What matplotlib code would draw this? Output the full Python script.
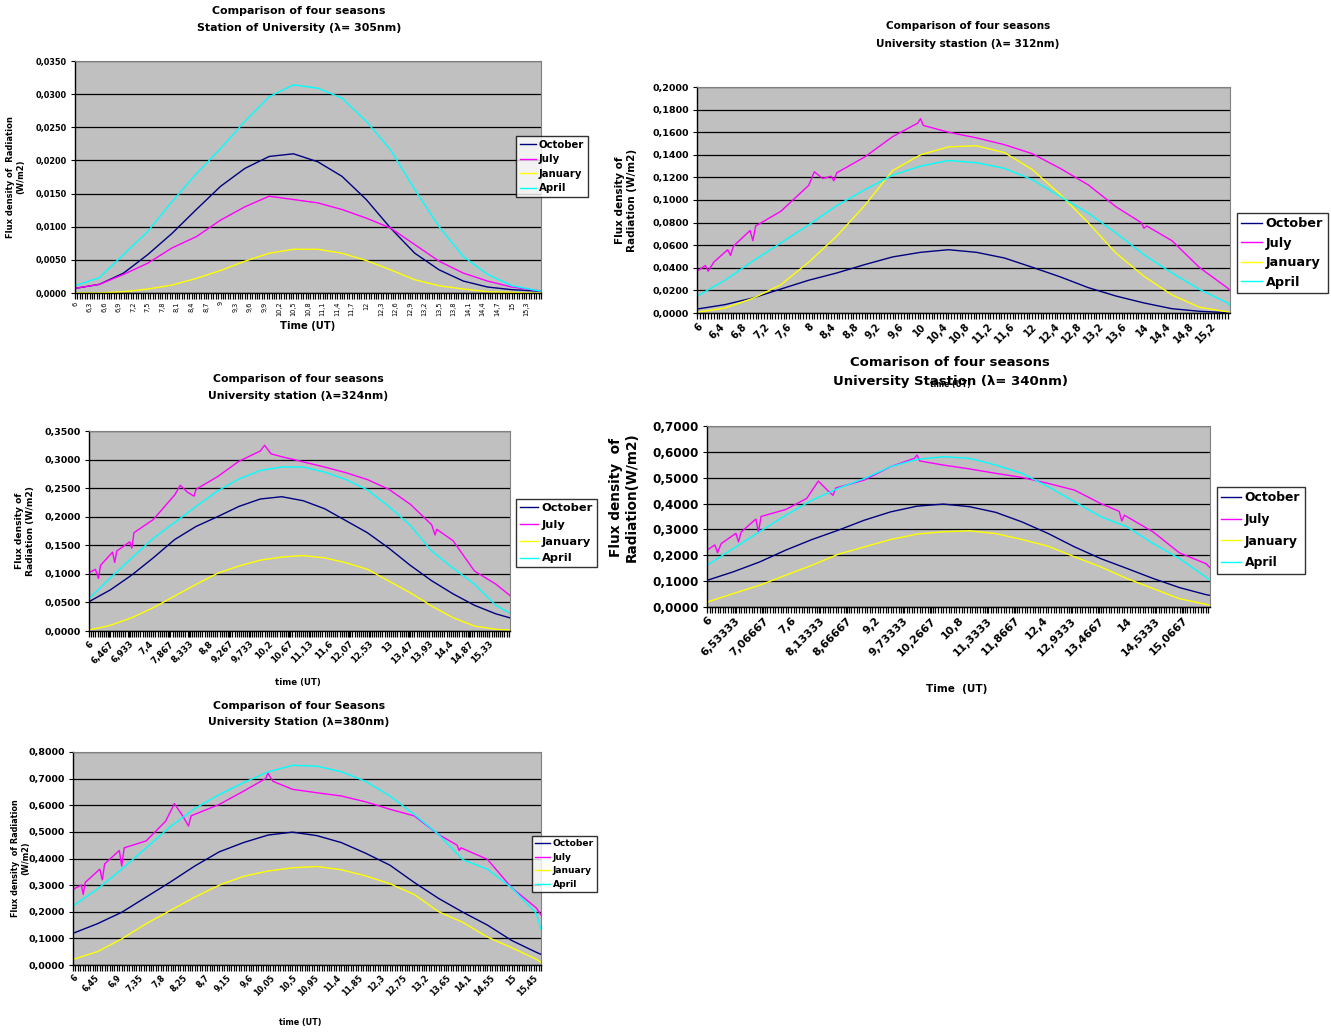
import matplotlib
matplotlib.use("Agg")
import matplotlib.pyplot as plt
from matplotlib.ticker import FixedLocator, MultipleLocator, FuncFormatter

plt.rcParams['font.family'] = ['DejaVu Sans']
plt.rcParams['font.weight'] = 'bold'

W, H = 1331, 1033

names = ["October", "July", "January", "April"]
colors = ["#000080", "#FF00FF", "#FFFF00", "#00FFFF"]

# time grid used by October, January, April (last value = end of day series)
grid_t = [6.0, 6.5, 7.0, 7.5, 8.0, 8.5, 9.0, 9.5, 10.0, 10.5, 11.0,
          11.5, 12.0, 12.5, 13.0, 13.5, 14.0, 14.5, 15.0, 15.5]

# ---- 305 nm
end1 = 15.6
oct1 = [0.0007, 0.0013, 0.0030, 0.0058, 0.0090, 0.0126, 0.0161, 0.0188, 0.0206, 0.0210, 0.0198,
        0.0176, 0.0141, 0.0098, 0.0060, 0.0035, 0.0018, 0.0009, 0.0005, 0.0003, 0.0003]
jul1_t = grid_t + [end1]
jul1 = [0.0007, 0.0013, 0.0028, 0.0045, 0.0068, 0.0085, 0.0110, 0.0130, 0.0146, 0.0141, 0.0136,
        0.0126, 0.0113, 0.0098, 0.0073, 0.0048, 0.0030, 0.0018, 0.0009, 0.0004, 0.0003]
jan1 = [0.0000, 0.0000, 0.0002, 0.0006, 0.0012, 0.0022, 0.0034, 0.0048, 0.0060, 0.0066, 0.0066,
        0.0060, 0.0049, 0.0035, 0.0020, 0.0011, 0.0006, 0.0002, 0.0001, 0.0000, 0.0000]
apr1 = [0.0011, 0.0023, 0.0058, 0.0093, 0.0138, 0.0180, 0.0218, 0.0259, 0.0296, 0.0314, 0.0309,
        0.0294, 0.0259, 0.0216, 0.0156, 0.0100, 0.0055, 0.0028, 0.0011, 0.0004, 0.0003]
xlab1 = ["6", "6,3", "6,6", "6,9", "7,2", "7,5", "7,8", "8,1", "8,4", "8,7", "9", "9,3", "9,6",
         "9,9", "10,2", "10,5", "10,8", "11,1", "11,4", "11,7", "12", "12,3", "12,6", "12,9",
         "13,2", "13,5", "13,8", "14,1", "14,4", "14,7", "15", "15,3"]

# ---- 312 nm
end2 = 15.54
oct2 = [0.0035, 0.0074, 0.0133, 0.0212, 0.0290, 0.0354, 0.0428, 0.0496, 0.0537, 0.0560, 0.0537,
        0.0487, 0.0405, 0.0320, 0.0225, 0.0150, 0.0089, 0.0038, 0.0015, 0.0003, 0.0002]
jul2_t = [6.0, 6.15, 6.2, 6.3, 6.55, 6.6, 6.65, 6.95, 7.0, 7.05, 7.5, 8.0, 8.1, 8.25, 8.4, 8.45,
          8.5, 9.0, 9.5, 9.95, 10.0, 10.05, 10.5, 11.0, 11.5, 12.0, 12.5, 13.0, 13.5, 13.95,
          14.0, 14.05, 14.5, 15.0, 15.5, 15.54]
jul2 = [0.037, 0.042, 0.037, 0.045, 0.056, 0.051, 0.059, 0.073, 0.064, 0.077, 0.090, 0.113,
        0.125, 0.119, 0.121, 0.117, 0.124, 0.138, 0.156, 0.168, 0.172, 0.166, 0.160, 0.155,
        0.149, 0.141, 0.128, 0.1135, 0.094, 0.080, 0.075, 0.077, 0.064, 0.040, 0.022, 0.020]
jan2 = [0.0006, 0.0044, 0.0130, 0.0250, 0.0450, 0.0680, 0.0950, 0.1260, 0.1400, 0.1470, 0.1480,
        0.1420, 0.1270, 0.1050, 0.0800, 0.0530, 0.0325, 0.0160, 0.0050, 0.0010, 0.0008]
apr2 = [0.0148, 0.0290, 0.0460, 0.0620, 0.0780, 0.0950, 0.1090, 0.1220, 0.1300, 0.1350, 0.1330,
        0.1280, 0.1180, 0.1030, 0.0885, 0.0708, 0.0516, 0.0354, 0.0207, 0.0089, 0.0060]
xlab2 = ["6", "6,4", "6,8", "7,2", "7,6", "8", "8,4", "8,8", "9,2", "9,6", "10", "10,4", "10,8",
         "11,2", "11,6", "12", "12,4", "12,8", "13,2", "13,6", "14", "14,4", "14,8", "15,2"]

# ---- 324 nm
end3 = 15.83
oct3 = [0.0513, 0.072, 0.098, 0.128, 0.160, 0.183, 0.200, 0.218, 0.231, 0.235, 0.228,
        0.214, 0.193, 0.172, 0.145, 0.115, 0.088, 0.065, 0.045, 0.030, 0.023]
jul3_t = [6.0, 6.15, 6.22, 6.27, 6.55, 6.6, 6.65, 6.95, 7.0, 7.05, 7.5, 8.0, 8.13, 8.3, 8.45,
          8.5, 9.0, 9.5, 10.0, 10.1, 10.25, 10.5, 11.0, 11.5, 12.0, 12.5, 13.0, 13.5, 14.0,
          14.08, 14.12, 14.5, 15.0, 15.5, 15.83]
jul3 = [0.102, 0.108, 0.092, 0.115, 0.138, 0.120, 0.140, 0.156, 0.145, 0.172, 0.195, 0.238,
        0.255, 0.243, 0.236, 0.248, 0.270, 0.297, 0.315, 0.325, 0.310, 0.305, 0.296, 0.287,
        0.277, 0.265, 0.248, 0.222, 0.186, 0.168, 0.178, 0.158, 0.105, 0.082, 0.062]
jan3 = [0.0017, 0.0099, 0.0233, 0.0408, 0.0612, 0.0816, 0.1010, 0.1137, 0.1240, 0.1294, 0.1320,
        0.1280, 0.1195, 0.1080, 0.0875, 0.0670, 0.0437, 0.0233, 0.0087, 0.0029, 0.0017]
apr3 = [0.0566, 0.093, 0.128, 0.162, 0.190, 0.218, 0.245, 0.266, 0.281, 0.287, 0.287,
        0.278, 0.265, 0.247, 0.218, 0.185, 0.140, 0.110, 0.082, 0.045, 0.031]
xlab3 = ["6", "6,467", "6,933", "7,4", "7,867", "8,333", "8,8", "9,267", "9,733", "10,2",
         "10,67", "11,13", "11,6", "12,07", "12,53", "13", "13,47", "13,93", "14,4", "14,87",
         "15,33"]

# ---- 340 nm
end4 = 15.58
oct4 = [0.103, 0.136, 0.174, 0.220, 0.261, 0.297, 0.336, 0.368, 0.390, 0.398, 0.388,
        0.366, 0.329, 0.284, 0.2325, 0.187, 0.149, 0.110, 0.075, 0.048, 0.045]
jul4_t = [6.0, 6.15, 6.2, 6.27, 6.55, 6.6, 6.65, 6.93, 6.98, 7.03, 7.5, 7.9, 8.12, 8.3, 8.4,
          8.45, 9.0, 9.5, 9.95, 10.0, 10.05, 10.5, 11.0, 11.5, 12.0, 12.5, 13.0, 13.5, 13.85,
          13.9, 13.95, 14.5, 15.0, 15.5, 15.58]
jul4 = [0.220, 0.240, 0.210, 0.245, 0.285, 0.252, 0.290, 0.340, 0.290, 0.350, 0.377, 0.420,
        0.487, 0.450, 0.432, 0.460, 0.491, 0.543, 0.575, 0.588, 0.565, 0.549, 0.534, 0.517,
        0.501, 0.478, 0.452, 0.400, 0.370, 0.333, 0.355, 0.290, 0.209, 0.168, 0.152]
jan4 = [0.019, 0.052, 0.084, 0.123, 0.1615, 0.204, 0.2326, 0.261, 0.282, 0.291, 0.2946,
        0.284, 0.261, 0.235, 0.194, 0.155, 0.110, 0.071, 0.032, 0.0103, 0.0065]
apr4 = [0.1615, 0.226, 0.291, 0.355, 0.413, 0.459, 0.497, 0.543, 0.571, 0.581, 0.575,
        0.549, 0.517, 0.465, 0.407, 0.349, 0.310, 0.245, 0.187, 0.116, 0.103]
xlab4 = ["6", "6,53333", "7,06667", "7,6", "8,13333", "8,66667", "9,2", "9,73333", "10,2667",
         "10,8", "11,3333", "11,8667", "12,4", "12,9333", "13,4667", "14", "14,5333", "15,0667"]

# ---- 380 nm
end5 = 15.6
oct5 = [0.119, 0.155, 0.198, 0.255, 0.312, 0.372, 0.425, 0.460, 0.488, 0.499, 0.486,
        0.460, 0.420, 0.375, 0.310, 0.250, 0.198, 0.150, 0.092, 0.048, 0.040]
jul5_t = [6.0, 6.17, 6.21, 6.25, 6.55, 6.6, 6.65, 6.95, 7.0, 7.05, 7.5, 7.9, 8.08, 8.25, 8.37,
          8.42, 9.0, 9.5, 9.95, 10.0, 10.1, 10.5, 11.0, 11.5, 12.0, 12.5, 13.0, 13.5, 13.88,
          13.92, 13.96, 14.5, 15.0, 15.5, 15.6]
jul5 = [0.284, 0.300, 0.265, 0.310, 0.360, 0.320, 0.380, 0.430, 0.372, 0.440, 0.466, 0.540,
        0.606, 0.560, 0.522, 0.560, 0.603, 0.653, 0.700, 0.720, 0.690, 0.660, 0.647, 0.635,
        0.613, 0.585, 0.560, 0.490, 0.450, 0.430, 0.440, 0.397, 0.290, 0.215, 0.188]
jan5 = [0.021, 0.050, 0.098, 0.155, 0.205, 0.255, 0.300, 0.333, 0.353, 0.365, 0.370,
        0.358, 0.335, 0.305, 0.265, 0.200, 0.160, 0.105, 0.065, 0.022, 0.010]
apr5 = [0.222, 0.285, 0.360, 0.440, 0.520, 0.588, 0.640, 0.685, 0.725, 0.750, 0.747,
        0.726, 0.690, 0.635, 0.565, 0.490, 0.395, 0.360, 0.290, 0.195, 0.134]
xlab5 = ["6", "6,45", "6,9", "7,35", "7,8", "8,25", "8,7", "9,15", "9,6", "10,05", "10,5",
         "10,95", "11,4", "11,85", "12,3", "12,75", "13,2", "13,65", "14,1", "14,55", "15", "15,45"]


fig = plt.figure(figsize=(W / 100, H / 100), dpi=100)


def ftext(x, y, s, size, **kw):
    fig.text(x / W, 1 - y / H, s, fontsize=size, fontweight='bold', ha='center', va='center', **kw)


def chart(box, end, data, jul_t, ymax, ystep, xlabels, rot, fs_tick, fs_xtick, leg_pos, fs_leg,
          leg_space):
    l, t, r, b = box
    ax = fig.add_axes([l / W, 1 - b / H, (r - l) / W, (b - t) / H])
    ax.set_facecolor('#C0C0C0')
    tt = grid_t + [end]
    for name, col, vals in zip(names, colors, data):
        xs = jul_t if name == "July" else tt
        ax.plot(xs, vals, color=col, lw=1.0, label=name)
    ax.set_xlim(6, end)
    ax.set_ylim(0, ymax)
    ax.yaxis.set_major_locator(MultipleLocator(ystep))
    ax.yaxis.set_major_formatter(FuncFormatter(lambda v, p: f"{v:.4f}".replace('.', ',')))
    ax.grid(axis='y', color='black', lw=0.9)
    ax.set_axisbelow(True)
    pos = [float(s.replace(',', '.')) for s in xlabels]
    ax.xaxis.set_major_locator(FixedLocator(pos))
    ax.xaxis.set_minor_locator(MultipleLocator(0.05))
    if rot == 90:
        ax.set_xticklabels(xlabels, rotation=90, fontsize=fs_xtick, fontweight='normal')
    else:
        ax.set_xticklabels(xlabels, rotation=45, ha='right', rotation_mode='anchor',
                           fontsize=fs_xtick, fontweight='bold')
    ax.tick_params(axis='x', which='both', length=4, width=0.9, direction='out', pad=2)
    ax.tick_params(axis='y', length=3, width=0.8, labelsize=fs_tick, pad=3)
    for s in ['top', 'right']:
        ax.spines[s].set_color('#808080')
        ax.spines[s].set_linewidth(0.8)
    for s in ['left', 'bottom']:
        ax.spines[s].set_color('black')
        ax.spines[s].set_linewidth(1.0)
    h, lb = ax.get_legend_handles_labels()
    leg = fig.legend(h, lb, loc='upper left', bbox_to_anchor=(leg_pos[0] / W, 1 - leg_pos[1] / H),
                     fontsize=fs_leg, frameon=True, fancybox=False, edgecolor='black',
                     handlelength=1.6, handletextpad=0.3, labelspacing=leg_space,
                     borderpad=0.35, borderaxespad=0)
    leg.get_frame().set_linewidth(1.0)
    for txt in leg.get_texts():
        txt.set_fontweight('bold')
    return ax


# chart 1 : 305 nm
chart((75, 61, 541, 293), end1, [oct1, jul1, jan1, apr1], jul1_t, 0.035, 0.005, xlab1, 90,
      5.9, 4.8, (516, 136), 7.3, 0.45)
ftext(299, 11, "Comparison of four seasons", 7.9)
ftext(299, 28, "Station of University (λ= 305nm)", 7.9)
ftext(16, 177, "Flux density of  Radiation\n(W/m2)", 6.0, rotation=90, multialignment='center')
ftext(308, 326, "Time (UT)", 7.2)

# chart 2 : 312 nm
chart((697, 87, 1230, 313), end2, [oct2, jul2, jan2, apr2], jul2_t, 0.2, 0.02, xlab2, 45,
      6.8, 7.0, (1237, 213), 9.2, 0.5)
ftext(968, 26, "Comparison of four seasons", 7.5)
ftext(968, 44, "University stastion (λ= 312nm)", 7.5)
ftext(626, 200, "Flux density of\nRadiation (W/m2)", 7.5, rotation=90, multialignment='center')
ftext(950, 385, "time (UT)", 5.5)

# chart 3 : 324 nm
chart((89, 431, 510, 631), end3, [oct3, jul3, jan3, apr3], jul3_t, 0.35, 0.05, xlab3, 45,
      6.8, 6.2, (516, 499), 8.2, 0.6)
ftext(298, 379, "Comparison of four seasons", 7.8)
ftext(298, 396, "University station (λ=324nm)", 7.8)
ftext(25, 531, "Flux density of\nRadiation (W/m2)", 6.6, rotation=90, multialignment='center')
ftext(298, 683, "time (UT)", 6.2)

# chart 4 : 340 nm
chart((707, 426, 1210, 607), end4, [oct4, jul4, jan4, apr4], jul4_t, 0.7, 0.1, xlab4, 45,
      8.6, 7.8, (1217, 487), 8.9, 0.7)
ftext(950, 362, "Comarison of four seasons", 9.5)
ftext(950, 381, "University Stastion (λ= 340nm)", 9.5)
ftext(624, 497, "Flux density  of\nRadiation(W/m2)", 9.8, rotation=90, multialignment='center')
ftext(957, 689, "Time  (UT)", 7.5)

# chart 5 : 380 nm
chart((73, 752, 541, 965), end5, [oct5, jul5, jan5, apr5], jul5_t, 0.8, 0.1, xlab5, 45,
      6.8, 5.8, (532, 836), 6.6, 0.5)
ftext(299, 706, "Comparison of four Seasons", 7.8)
ftext(299, 722, "University Station (λ=380nm)", 7.8)
ftext(21, 858, "Flux density  of Radiation\n(W/m2)", 5.9, rotation=90, multialignment='center')
ftext(300, 1023, "time (UT)", 5.8)

fig.savefig("out.png", dpi=100, facecolor='white')
